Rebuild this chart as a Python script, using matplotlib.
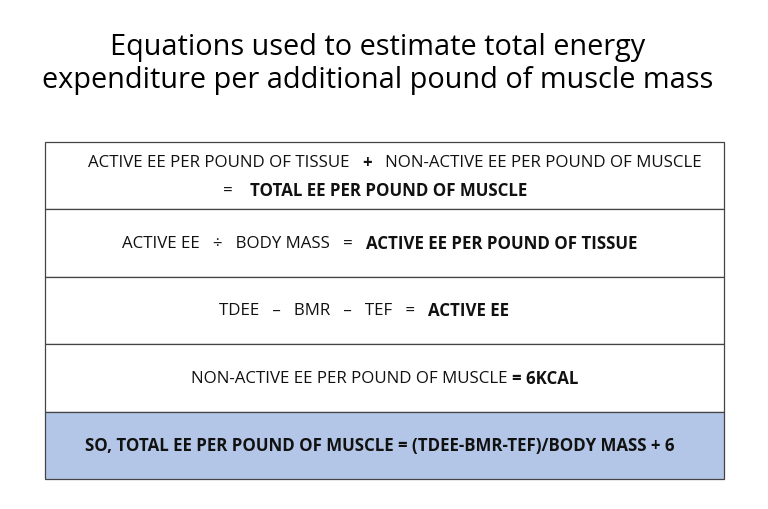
import matplotlib.pyplot as plt
from matplotlib.patches import Rectangle

plt.rcParams["font.family"] = ["Open Sans", "DejaVu Sans"]

titulo = "Equations used to estimate total energy\nexpenditure per additional pound of muscle mass"

# cada linha: lista de (texto, negrito) por linha de texto
linhas = [
    [[("ACTIVE EE PER POUND OF TISSUE   ", False), ("+", True), ("   NON-ACTIVE EE PER POUND OF MUSCLE", False)],
     [("=    ", False), ("TOTAL EE PER POUND OF MUSCLE", True)]],
    [[("ACTIVE EE   ÷   BODY MASS   =   ", False), ("ACTIVE EE PER POUND OF TISSUE", True)]],
    [[("TDEE   –   BMR   –   TEF   =   ", False), ("ACTIVE EE", True)]],
    [[("NON-ACTIVE EE PER POUND OF MUSCLE ", False), ("= 6KCAL", True)]],
    [[("SO, TOTAL EE PER POUND OF MUSCLE = (TDEE-BMR-TEF)/BODY MASS + 6", True)]],
]
destaque = [False, False, False, False, True]
centros = [[395, 375], [380], [364], [385], [380]]

fig = plt.figure(figsize=(7.68, 5.10), dpi=100)
ax = fig.add_axes([0, 0, 1, 1])
ax.set_xlim(0, 768)
ax.set_ylim(510, 0)
ax.axis("off")

ax.text(378, 64, titulo, ha="center", va="center", fontsize=20.8, linespacing=1.2)

x0, x1, y0, alt = 45, 724, 143, 67.4
r = fig.canvas.get_renderer()
for i, (linha, dest) in enumerate(zip(linhas, destaque)):
    topo = y0 + i * alt
    ax.add_patch(Rectangle((x0, topo), x1 - x0, alt, facecolor="#b4c6e7" if dest else "white",
                           edgecolor="#444444", linewidth=0.9))
    n = len(linha)
    for j, partes in enumerate(linha):
        yc = topo + 20 + j * 28 if n == 2 else topo + alt / 2
        objs = []
        for txt, neg in partes:
            t = ax.text(0, yc, txt, fontsize=12.2, va="center", ha="left",
                        fontweight="bold" if neg else "normal", color="#111111")
            objs.append(t)
        larg = [o.get_window_extent(r).width for o in objs]
        x = centros[i][j] - sum(larg) / 2
        for o, w in zip(objs, larg):
            o.set_x(x)
            x += w

fig.savefig("out.png", dpi=100)
